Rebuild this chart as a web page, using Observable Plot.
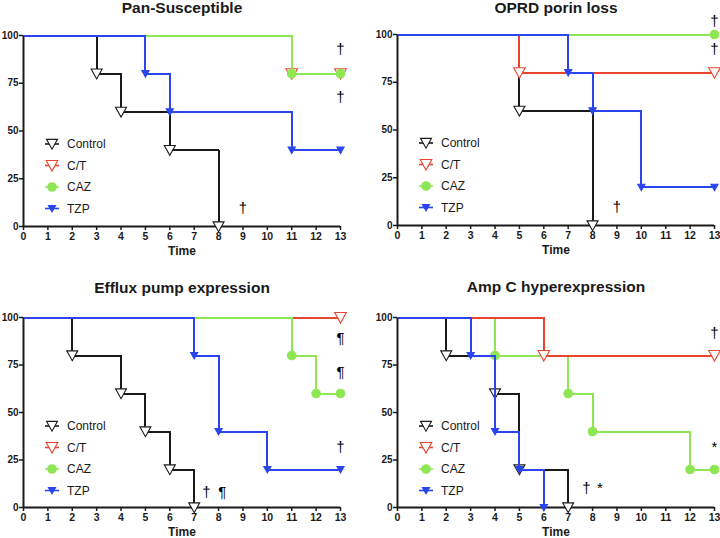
<!DOCTYPE html>
<html><head><meta charset="utf-8">
<script src="https://cdn.jsdelivr.net/npm/d3@7"></script>
<script src="https://cdn.jsdelivr.net/npm/@observablehq/plot@0.6"></script>
<style>
body{margin:0;background:#fff;}
#root{position:relative;width:720px;height:538px;overflow:hidden;font-family:"Liberation Sans",Arial,sans-serif;background:#fff;}
.panel{position:absolute;}
.panel g[aria-label$="tick label"] text{font-weight:bold;}
</style></head><body><div id="root"></div>
<script>
// ---- data ----
const groups = ["Control", "C/T", "CAZ", "TZP"];
const xTicks = [0,1,2,3,4,5,6,7,8,9,10,11,12,13];
const yTicks = [0,25,50,75,100];
const titles = ["Pan-Susceptible", "OPRD porin loss", "Efflux pump expression", "Amp C hyperexpression"];

// Pan-Susceptible: [time, % survival]
const panControl = [[0,100],[3,80],[4,60],[6,40],[8,0]];
const panCT      = [[0,100],[11,80],[13,80]];
const panCAZ     = [[0,100],[11,80],[13,80]];
const panTZP     = [[0,100],[5,80],[6,60],[11,40],[13,40]];
const panNotes   = [[13,93,"†"],[13,67.5,"†"],[9,9.5,"†"]];

// OPRD porin loss
const oprdControl = [[0,100],[5,60],[8,0]];
const oprdCT      = [[0,100],[5,80],[13,80]];
const oprdCAZ     = [[0,100],[13,100]];
const oprdTZP     = [[0,100],[7,80],[8,60],[10,20],[13,20]];
const oprdNotes   = [[13,107,"†"],[13,92.5,"†"],[9,9.5,"†"]];

// Efflux pump expression
const effControl = [[0,100],[2,80],[4,60],[5,40],[6,20],[7,0]];
const effCT      = [[0,100],[13,100]];
const effCAZ     = [[0,100],[11,80],[12,60],[13,60]];
const effTZP     = [[0,100],[7,80],[8,40],[10,20],[13,20]];
const effNotes   = [[13,89,"¶"],[13,71,"¶"],[13,31.5,"†"],[7.5,8,"†"],[8.15,8,"¶"]];

// Amp C hyperexpression
const ampControl = [[0,100],[2,80],[4,60],[5,20],[7,0]];
const ampCT      = [[0,100],[6,80],[13,80]];
const ampCAZ     = [[0,100],[4,80],[7,60],[8,40],[12,20],[13,20]];
const ampTZP     = [[0,100],[3,80],[4,40],[5,20],[6,0]];
const ampNotes   = [[13,92,"†"],[13,31.5,"*"],[7.75,10,"†"],[8.3,10,"*"]];

// ---- styles ----
const triDown = {
  draw(ctx, size) {
    const r = Math.sqrt(size / Math.PI);
    ctx.moveTo(-r, -0.85 * r);
    ctx.lineTo(r, -0.85 * r);
    ctx.lineTo(0, 0.95 * r);
    ctx.closePath();
  }
};
const look = {
  "Control": {color: "#1a1a1a", fill: "white",   symbol: triDown, r: 5.5},
  "C/T":     {color: "#e8452e", fill: "white",   symbol: triDown, r: 5.8},
  "CAZ":     {color: "#8fe655", fill: "#8fe655", symbol: "circle", r: 4.3},
  "TZP":     {color: "#2b45ee", fill: "#2b45ee", symbol: triDown, r: 3.6}
};
const layout = [
  {left: 0,   top: 0,   width: 360, height: 260, mt: 35, mb: 34, ml: 23, mr: 20, ty: 8},
  {left: 360, top: 0,   width: 360, height: 260, mt: 34, mb: 35, ml: 37, mr: 6,  ty: 8},
  {left: 0,   top: 270, width: 360, height: 268, mt: 47, mb: 31, ml: 23, mr: 20, ty: 18},
  {left: 360, top: 270, width: 360, height: 268, mt: 47, mb: 31, ml: 37, mr: 6,  ty: 17}
];
const panelSeries = [
  {Control: panControl, "C/T": panCT, CAZ: panCAZ, TZP: panTZP, order: ["Control","C/T","CAZ","TZP"], notes: panNotes},
  {Control: oprdControl, "C/T": oprdCT, CAZ: oprdCAZ, TZP: oprdTZP, order: ["Control","C/T","CAZ","TZP"], notes: oprdNotes},
  {Control: effControl, "C/T": effCT, CAZ: effCAZ, TZP: effTZP, order: ["Control","C/T","CAZ","TZP"], notes: effNotes},
  {Control: ampControl, "C/T": ampCT, CAZ: ampCAZ, TZP: ampTZP, order: ["Control","CAZ","C/T","TZP"], notes: ampNotes}
];

const FONT = "'Liberation Sans', Arial, Helvetica, sans-serif";
const root = document.getElementById("root");

titles.forEach((title, i) => {
  const L = layout[i], S = panelSeries[i];
  const marks = [
    Plot.axisX({ticks: xTicks, tickSize: 4, tickPadding: 2, tickFormat: d => d, fontWeight: "bold", fontSize: 10.5, label: null, strokeWidth: 1.5}),
    Plot.axisY({ticks: yTicks, tickSize: 4, tickPadding: 1, tickFormat: d => d, fontWeight: "bold", fontSize: 10, label: null, strokeWidth: 1.5}),
    Plot.ruleY([0], {strokeWidth: 2}),
    Plot.ruleX([0], {strokeWidth: 2}),
    Plot.text([title], {frameAnchor: "top", text: d => d, dy: L.ty - L.mt, fontSize: 15.5, fontWeight: "bold", lineAnchor: "middle"}),
    Plot.text(["Time"], {frameAnchor: "bottom", text: d => d, dy: 25, fontSize: 12, fontWeight: "bold", lineAnchor: "middle"})
  ];
  for (const g of S.order) {
    const data = S[g], st = look[g];
    marks.push(Plot.line(data, {x: d => d[0], y: d => d[1], curve: "step-after", stroke: st.color, strokeWidth: 2, shapeRendering: "crispEdges"}));
    marks.push(Plot.dot(data.slice(1), {x: d => d[0], y: d => d[1], symbol: st.symbol, r: st.r, fill: st.fill, stroke: st.color, strokeWidth: 1.1}));
  }
  marks.push(Plot.text(S.notes, {x: d => d[0], y: d => d[1], text: d => d[2], fontSize: 15, fill: "#000", lineAnchor: "middle"}));

  const chart = Plot.plot({
    width: L.width, height: L.height,
    marginTop: L.mt, marginBottom: L.mb, marginLeft: L.ml, marginRight: L.mr,
    x: {domain: [0, 13]},
    y: {domain: [0, 100]},
    style: {fontFamily: FONT, fontSize: "10px", color: "#1a1a1a", background: "white", overflow: "visible"},
    marks
  });

  // legend inside the svg
  const svg = d3.select(chart);
  svg.selectAll('g[aria-label$="tick label"]').attr("font-weight", "bold");
  const lg = svg.append("g").attr("transform", `translate(${L.ml + 22},${L.mt + 109})`);
  groups.forEach((g, k) => {
    const st = look[g];
    const row = lg.append("g").attr("transform", `translate(0,${k * 21.5})`);
    row.append("line").attr("x1", 0).attr("x2", 14).attr("y1", 0).attr("y2", 0)
      .attr("stroke", st.color).attr("stroke-width", 1.6);
    const symType = st.symbol === "circle" ? d3.symbolCircle : st.symbol;
    row.append("path").attr("d", d3.symbol(symType, st.r * st.r * Math.PI)())
      .attr("transform", "translate(7,0)")
      .attr("fill", st.fill).attr("stroke", st.color).attr("stroke-width", 1.1);
    row.append("text").attr("x", 22).attr("y", 0).attr("dy", "0.35em")
      .attr("text-anchor", "start")
      .attr("font-size", 12).attr("font-family", FONT).attr("fill", "#1a1a1a").text(g);
  });

  const wrap = document.createElement("div");
  wrap.className = "panel";
  wrap.style.left = L.left + "px";
  wrap.style.top = L.top + "px";
  wrap.appendChild(chart);
  root.appendChild(wrap);
});
</script></body></html>
